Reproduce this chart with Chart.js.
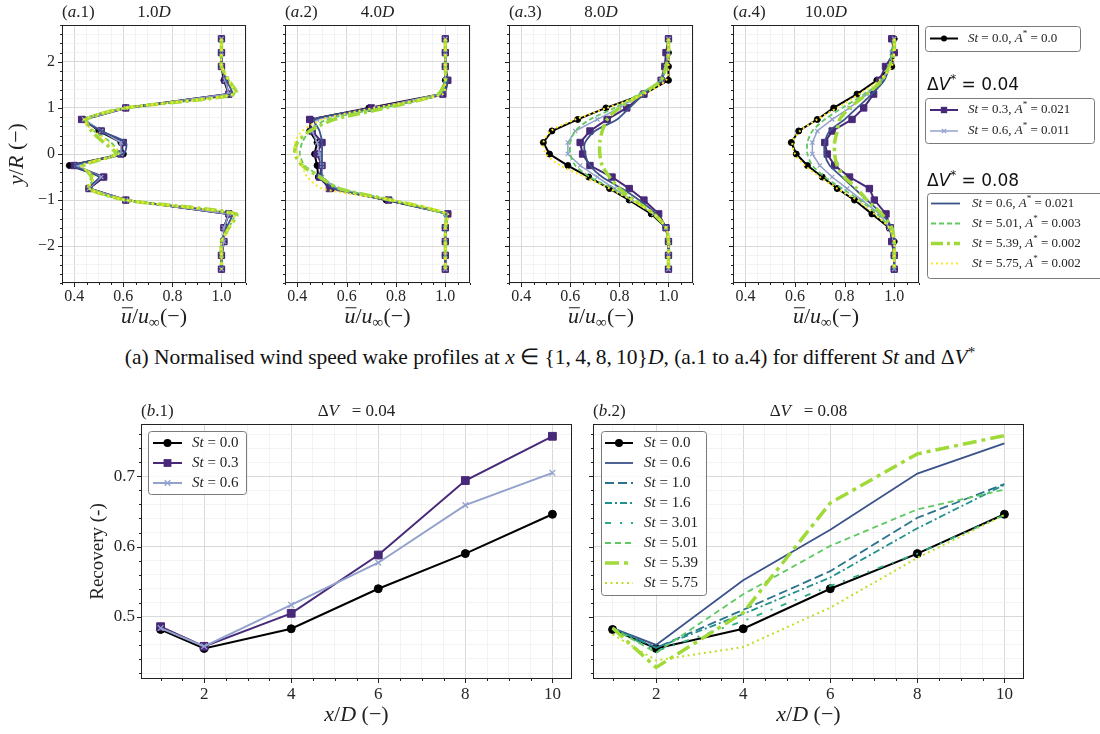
<!DOCTYPE html>
<html>
<head>
<meta charset="utf-8">
<script src="https://cdn.jsdelivr.net/npm/chart.js@4.4.1/dist/chart.umd.min.js"></script>
<style>
    html, body { margin: 0; padding: 0; background: #fff; }
    body { width: 1100px; height: 734px; position: relative; overflow: hidden; }
    canvas { position: absolute; }
    #caption {
        position: absolute; left: 0; top: 344px; width: 1100px; text-align: center;
        font: 21.5px 'Liberation Serif', serif; color: #111; white-space: nowrap;
    }
    #caption .up { position: relative; top: -0.45em; font-size: 0.7em; }
</style>
</head>
<body>
<div id="caption">(a) Normalised wind speed wake profiles at <i>x</i> ∈ {1,&thinsp;4,&thinsp;8,&thinsp;10}<i>D</i>, (a.1 to a.4) for different <i>St</i> and Δ<i>V</i><span class="up">*</span></div>
<script>
const SERIF = "'Liberation Serif', 'DejaVu Serif', serif";
const SANS = "'DejaVu Sans', sans-serif";

// --- wake profiles: sample heights y/R and u/u_inf per station (1, 4, 8, 10 D) ---
const yR = [2.5, 2.2, 1.9, 1.6, 1.3, 1.0, 0.75, 0.5, 0.25, 0, -0.25, -0.5, -0.75, -1.0, -1.3, -1.6, -1.9, -2.2, -2.5];
const stations = ['1.0', '4.0', '8.0', '10.0'];

const prof_st00 = [
    [1.0, 1.0, 1.0, 1.01, 1.03, 0.61, 0.44, 0.50, 0.59, 0.60, 0.38, 0.52, 0.46, 0.61, 1.03, 1.01, 1.01, 1.0, 1.0],
    [1.0, 1.0, 1.0, 1.0, 0.985, 0.69, 0.455, 0.45, 0.48, 0.47, 0.48, 0.485, 0.54, 0.76, 1.01, 1.0, 1.0, 1.0, 1.0],
    [1.0, 1.0, 1.0, 1.0, 0.90, 0.745, 0.63, 0.525, 0.49, 0.515, 0.59, 0.675, 0.76, 0.84, 0.93, 0.99, 1.0, 1.0, 1.0],
    [1.0, 1.0, 0.99, 0.93, 0.85, 0.756, 0.69, 0.615, 0.585, 0.605, 0.65, 0.71, 0.77, 0.84, 0.91, 0.98, 1.0, 1.0, 1.0]
];
const prof_st03 = [
    [1.0, 1.0, 1.0, 1.015, 1.03, 0.61, 0.43, 0.51, 0.60, 0.59, 0.40, 0.52, 0.46, 0.61, 1.03, 1.01, 1.01, 1.0, 1.0],
    [1.0, 1.0, 1.0, 1.01, 0.99, 0.70, 0.45, 0.46, 0.50, 0.48, 0.50, 0.49, 0.53, 0.77, 1.01, 1.0, 1.0, 1.0, 1.0],
    [1.0, 0.99, 0.985, 0.97, 0.90, 0.83, 0.75, 0.68, 0.64, 0.65, 0.68, 0.77, 0.84, 0.90, 0.96, 0.99, 1.0, 1.0, 1.0],
    [0.99, 1.0, 0.965, 0.94, 0.917, 0.877, 0.83, 0.75, 0.72, 0.73, 0.76, 0.82, 0.90, 0.92, 0.967, 0.984, 0.99, 1.0, 1.0]
];
const prof_st06a = [
    [1.0, 1.0, 1.0, 1.015, 1.03, 0.61, 0.44, 0.51, 0.59, 0.59, 0.41, 0.51, 0.46, 0.61, 1.03, 1.01, 1.01, 1.0, 1.0],
    [1.0, 1.0, 1.0, 1.0, 0.98, 0.72, 0.48, 0.46, 0.48, 0.49, 0.50, 0.50, 0.56, 0.78, 1.0, 1.0, 1.0, 1.0, 1.0],
    [1.0, 1.0, 0.99, 0.97, 0.89, 0.80, 0.71, 0.62, 0.59, 0.59, 0.64, 0.71, 0.78, 0.85, 0.94, 0.99, 1.0, 1.0, 1.0],
    [1.0, 0.99, 0.98, 0.95, 0.89, 0.82, 0.75, 0.69, 0.67, 0.67, 0.70, 0.75, 0.81, 0.87, 0.94, 0.98, 1.0, 1.0, 1.0]
];
const prof_st06b = [
    [1.0, 1.0, 1.0, 1.02, 1.04, 0.61, 0.44, 0.51, 0.61, 0.60, 0.40, 0.50, 0.46, 0.61, 1.04, 1.02, 1.0, 1.0, 1.0],
    [1.0, 1.0, 1.0, 1.01, 0.99, 0.72, 0.47, 0.49, 0.50, 0.50, 0.50, 0.50, 0.55, 0.76, 1.0, 1.0, 1.0, 1.0, 1.0],
    [1.0, 1.0, 0.99, 0.97, 0.90, 0.84, 0.79, 0.70, 0.66, 0.66, 0.68, 0.73, 0.81, 0.88, 0.95, 0.99, 1.0, 1.0, 1.0],
    [1.0, 0.99, 0.98, 0.96, 0.91, 0.85, 0.80, 0.74, 0.72, 0.72, 0.74, 0.79, 0.84, 0.89, 0.95, 0.99, 1.0, 1.0, 1.0]
];
const prof_st501 = [
    [1.0, 1.0, 1.0, 1.03, 1.05, 0.61, 0.44, 0.48, 0.55, 0.58, 0.43, 0.48, 0.46, 0.61, 1.05, 1.03, 1.0, 1.0, 1.0],
    [1.0, 1.0, 1.0, 1.0, 0.98, 0.74, 0.52, 0.45, 0.42, 0.41, 0.43, 0.50, 0.57, 0.78, 1.0, 1.0, 1.0, 1.0, 1.0],
    [1.0, 1.0, 0.99, 0.97, 0.88, 0.78, 0.68, 0.62, 0.60, 0.60, 0.62, 0.68, 0.77, 0.85, 0.94, 0.99, 1.0, 1.0, 1.0],
    [1.0, 0.99, 0.98, 0.95, 0.88, 0.79, 0.72, 0.67, 0.65, 0.65, 0.67, 0.72, 0.79, 0.86, 0.93, 0.98, 1.0, 1.0, 1.0]
];
const prof_st539 = [
    [1.0, 1.0, 1.0, 1.03, 1.06, 0.61, 0.45, 0.47, 0.52, 0.57, 0.44, 0.47, 0.46, 0.61, 1.06, 1.03, 1.0, 1.0, 1.0],
    [1.0, 1.0, 1.0, 1.0, 0.97, 0.76, 0.55, 0.45, 0.40, 0.39, 0.42, 0.49, 0.57, 0.78, 1.0, 1.0, 1.0, 1.0, 1.0],
    [1.0, 1.0, 0.99, 0.97, 0.89, 0.80, 0.75, 0.73, 0.72, 0.72, 0.73, 0.76, 0.80, 0.86, 0.94, 0.99, 1.0, 1.0, 1.0],
    [1.0, 1.0, 0.98, 0.95, 0.89, 0.82, 0.78, 0.77, 0.76, 0.76, 0.77, 0.80, 0.85, 0.89, 0.95, 0.99, 1.0, 1.0, 1.0]
];
const prof_st575 = [
    [1.0, 1.0, 1.0, 1.03, 1.05, 0.61, 0.44, 0.48, 0.54, 0.58, 0.43, 0.48, 0.46, 0.61, 1.05, 1.03, 1.0, 1.0, 1.0],
    [1.0, 1.0, 1.0, 1.0, 0.99, 0.71, 0.50, 0.42, 0.39, 0.40, 0.42, 0.44, 0.50, 0.78, 1.01, 1.0, 1.0, 1.0, 1.0],
    [1.0, 1.0, 1.0, 0.99, 0.90, 0.75, 0.62, 0.52, 0.49, 0.50, 0.56, 0.66, 0.76, 0.85, 0.94, 0.99, 1.0, 1.0, 1.0],
    [1.0, 1.0, 0.99, 0.94, 0.86, 0.77, 0.69, 0.62, 0.59, 0.60, 0.64, 0.70, 0.77, 0.85, 0.92, 0.98, 1.0, 1.0, 1.0]
];

// --- recovery vs downstream distance ---
const xD = [1, 2, 4, 6, 8, 10];
const rec1_st00 = [0.482, 0.455, 0.483, 0.540, 0.590, 0.646];
const rec1_st03 = [0.486, 0.458, 0.505, 0.588, 0.694, 0.757];
const rec1_st06 = [0.484, 0.458, 0.517, 0.577, 0.659, 0.705];
const rec2_st00 = [0.482, 0.455, 0.483, 0.540, 0.590, 0.646];
const rec2_st06 = [0.484, 0.460, 0.552, 0.624, 0.704, 0.747];
const rec2_st10 = [0.484, 0.456, 0.510, 0.565, 0.641, 0.689];
const rec2_st16 = [0.484, 0.456, 0.504, 0.556, 0.626, 0.688];
const rec2_st301 = [0.484, 0.451, 0.494, 0.544, 0.590, 0.645];
const rec2_st501 = [0.484, 0.449, 0.532, 0.601, 0.653, 0.681];
const rec2_st539 = [0.484, 0.428, 0.506, 0.662, 0.732, 0.758];
const rec2_st575 = [0.475, 0.438, 0.457, 0.513, 0.584, 0.645];

// --- ticks ---
const topXMajor = [0.4, 0.6, 0.8, 1.0];
const topYMajor = [-2, -1, 0, 1, 2];
const botXMajor = [2, 4, 6, 8, 10];
const botYMajor = [0.5, 0.6, 0.7];

// series styles
const profSeries = [
    { label: '$St$ = 0.0, $A$^* = 0.0', data: prof_st00, color: '#000000', width: 2, point: 'circle', r: 3 },
    { label: '$St$ = 0.3, $A$^* = 0.021', data: prof_st03, color: '#482878', width: 2, point: 'rect', r: 4.5 },
    { label: '$St$ = 0.6, $A$^* = 0.011', data: prof_st06a, color: '#93a2cc', width: 1.5, point: 'crossRot', r: 3 },
    { label: '$St$ = 0.6, $A$^* = 0.021', data: prof_st06b, color: '#3b528b', width: 1.8 },
    { label: '$St$ = 5.01, $A$^* = 0.003', data: prof_st501, color: '#5ec962', width: 1.8, dash: [5, 3] },
    { label: '$St$ = 5.39, $A$^* = 0.002', data: prof_st539, color: '#a0da39', width: 3.5, dash: [12, 4, 3, 4] },
    { label: '$St$ = 5.75, $A$^* = 0.002', data: prof_st575, color: '#fde725', width: 2, dash: [2, 3] }
];
const recSeries1 = [
    { label: '$St$ = 0.0', data: rec1_st00, color: '#000000', width: 2, point: 'circle', r: 4 },
    { label: '$St$ = 0.3', data: rec1_st03, color: '#482878', width: 2, point: 'rect', r: 5.5 },
    { label: '$St$ = 0.6', data: rec1_st06, color: '#93a2cc', width: 2, point: 'crossRot', r: 4 }
];
const recSeries2 = [
    { label: '$St$ = 0.0', data: rec2_st00, color: '#000000', width: 2, point: 'circle', r: 4 },
    { label: '$St$ = 0.6', data: rec2_st06, color: '#3b528b', width: 1.8 },
    { label: '$St$ = 1.0', data: rec2_st10, color: '#2c728e', width: 1.8, dash: [9, 4] },
    { label: '$St$ = 1.6', data: rec2_st16, color: '#21918c', width: 1.8, dash: [7, 3, 2, 3] },
    { label: '$St$ = 3.01', data: rec2_st301, color: '#28ae80', width: 1.8, dash: [6, 9, 2, 9] },
    { label: '$St$ = 5.01', data: rec2_st501, color: '#5ec962', width: 1.8, dash: [6, 4] },
    { label: '$St$ = 5.39', data: rec2_st539, color: '#a0da39', width: 3.5, dash: [14, 5, 4, 5] },
    { label: '$St$ = 5.75', data: rec2_st575, color: '#bddf26', width: 2, dash: [2, 3.5] }
];

function seq(a, b, step) {
    const out = [];
    const n = Math.round((b - a) / step);
    for (let i = 0; i <= n; i++) out.push(+(a + i * step).toFixed(4));
    return out;
}
const isIn = (arr, v) => arr.some(m => Math.abs(m - v) < 1e-6);

// small "$italic$ ^sup _sub ~overlined" text runs
function parseRuns(s) {
    const out = [];
    const re = /\$([^$]*)\$|\^(.)|_(.)|~(.)|([^$^_~]+)/g;
    let m;
    while ((m = re.exec(s))) {
        if (m[1] !== undefined) out.push({ t: m[1], it: true });
        else if (m[2] !== undefined) out.push({ t: m[2], sup: true });
        else if (m[3] !== undefined) out.push({ t: m[3], sub: true });
        else if (m[4] !== undefined) out.push({ t: m[4], it: true, over: true });
        else out.push({ t: m[5] });
    }
    return out;
}
function drawRuns(ctx, s, x, y, size, align, family) {
    const parts = parseRuns(s).map(p => {
        const fs = (p.sup || p.sub) ? size * 0.7 : size;
        const font = (p.it ? 'italic ' : '') + fs + 'px ' + family;
        ctx.font = font;
        return Object.assign(p, { font, w: ctx.measureText(p.t).width });
    });
    const total = parts.reduce((acc, p) => acc + p.w, 0);
    let cx = align === 'center' ? x - total / 2 : align === 'right' ? x - total : x;
    ctx.textAlign = 'left';
    ctx.textBaseline = 'middle';
    for (const p of parts) {
        ctx.font = p.font;
        const dy = p.sup ? -size * 0.38 : p.sub ? size * 0.28 : 0;
        ctx.fillText(p.t, cx, y + dy);
        if (p.over) {
            ctx.save();
            ctx.lineWidth = 1;
            ctx.strokeStyle = ctx.fillStyle;
            ctx.beginPath();
            ctx.moveTo(cx + 1, y - size * 0.42);
            ctx.lineTo(cx + p.w + 1, y - size * 0.42);
            ctx.stroke();
            ctx.restore();
        }
        cx += p.w;
    }
}

function line(ctx, x0, y0, x1, y1) {
    ctx.beginPath(); ctx.moveTo(x0, y0); ctx.lineTo(x1, y1); ctx.stroke();
}

function marker(ctx, s, x, y) {
    ctx.save();
    ctx.setLineDash([]);
    ctx.fillStyle = s.color; ctx.strokeStyle = s.color;
    ctx.beginPath();
    if (s.point === 'circle') {
        ctx.arc(x, y, s.r, 0, Math.PI * 2); ctx.fill();
    } else if (s.point === 'rect') {
        const h = s.r * Math.SQRT1_2;
        ctx.fillRect(x - h, y - h, 2 * h, 2 * h);
    } else if (s.point === 'crossRot') {
        const h = s.r * Math.SQRT1_2;
        ctx.lineWidth = 1.3;
        ctx.moveTo(x - h, y - h); ctx.lineTo(x + h, y + h);
        ctx.moveTo(x - h, y + h); ctx.lineTo(x + h, y - h);
        ctx.stroke();
    }
    ctx.restore();
}

function drawLegend(ctx, L) {
    ctx.save();
    ctx.beginPath();
    ctx.roundRect(L.x + 0.5, L.y + 0.5, L.w, L.h, 3);
    ctx.fillStyle = 'rgba(255,255,255,0.85)';
    ctx.fill();
    ctx.strokeStyle = '#7a7a7a';
    ctx.lineWidth = 1;
    ctx.stroke();
    L.rows.forEach((s, i) => {
        const y = L.y0 + i * L.dy;
        ctx.strokeStyle = s.color;
        ctx.lineWidth = s.width;
        ctx.setLineDash(s.dash || []);
        line(ctx, L.x0, y, L.x1, y);
        ctx.setLineDash([]);
        if (s.point) marker(ctx, s, (L.x0 + L.x1) / 2, y);
        ctx.fillStyle = '#222';
        drawRuns(ctx, s.label, L.tx, y, L.size, 'left', SERIF);
    });
    ctx.restore();
}

const decorCfg = new Map();
const decor = {
    id: 'decor',
    afterDraw(chart) {
        const cfg = decorCfg.get(chart.canvas.id);
        if (!cfg) return;
        const { ctx, chartArea: a, scales } = chart;
        ctx.save();
        ctx.strokeStyle = '#222';
        ctx.lineWidth = 1;
        // outward tick marks, long for major and short for minor
        for (const t of scales.x.ticks) {
            const px = Math.round(scales.x.getPixelForValue(t.value)) + 0.5;
            line(ctx, px, a.bottom, px, a.bottom + (isIn(cfg.xMajor, t.value) ? 4 : 2));
        }
        for (const t of scales.y.ticks) {
            const py = Math.round(scales.y.getPixelForValue(t.value)) + 0.5;
            line(ctx, a.left - (isIn(cfg.yMajor, t.value) ? 4 : 2), py, a.left, py);
        }
        ctx.strokeRect(Math.round(a.left) + 0.5, Math.round(a.top) + 0.5, Math.round(a.width) - 1, Math.round(a.height) - 1);

        const cx = (a.left + a.right) / 2;
        ctx.fillStyle = '#222';
        drawRuns(ctx, cfg.tag, a.left, cfg.titleY, 17, 'left', SERIF);
        drawRuns(ctx, cfg.title, cx, cfg.titleY, 17, 'center', SERIF);
        drawRuns(ctx, cfg.xTitle, cx, cfg.xTitleY, 22, 'center', SERIF);
        if (cfg.yTitle) {
            ctx.save();
            ctx.translate(cfg.yTitleX, (a.top + a.bottom) / 2);
            ctx.rotate(-Math.PI / 2);
            drawRuns(ctx, cfg.yTitle, 0, 0, cfg.yTitleSize, 'center', SERIF);
            ctx.restore();
        }
        (cfg.headings || []).forEach(h => {
            ctx.fillStyle = '#111';
            drawRuns(ctx, h.s, h.x, h.y, 17, 'left', SANS);
        });
        (cfg.legends || []).forEach(L => drawLegend(ctx, L));
        ctx.restore();
    }
};

function axis(o) {
    return {
        type: 'linear',
        position: o.isX ? 'bottom' : 'left',
        min: o.min, max: o.max,
        afterBuildTicks: s => { s.ticks = seq(o.first, o.last, o.step).map(v => ({ value: v })); },
        afterFit: s => { if (o.isX) s.height = o.fit; else s.width = o.fit; },
        grid: {
            color: c => (c.tick && isIn(o.major, c.tick.value)) ? '#d9d9d9' : '#f0f0f0',
            lineWidth: c => (c.tick && isIn(o.major, c.tick.value)) ? 1 : 0.8,
            drawTicks: false
        },
        border: { display: false },
        ticks: {
            autoSkip: false, maxRotation: 0, minRotation: 0, padding: o.pad,
            color: '#262626', font: { family: SERIF, size: o.size },
            callback: v => (o.labels && isIn(o.major, v)) ? o.fmt(v) : ''
        }
    };
}

function makeCanvas(id, left, top, w, h) {
    const c = document.createElement('canvas');
    c.id = id; c.width = w; c.height = h;
    c.style.left = left + 'px'; c.style.top = top + 'px';
    c.style.width = w + 'px'; c.style.height = h + 'px';
    document.body.appendChild(c);
    return c;
}

function toDatasets(series, pointsOf, smooth) {
    const n = series.length;
    return series.map((s, i) => ({
        label: s.label,
        data: pointsOf(s),
        borderColor: s.color,
        backgroundColor: s.color,
        borderWidth: s.width,
        borderDash: s.dash || [],
        pointStyle: s.point || 'circle',
        pointRadius: s.point ? s.r : 0,
        pointBorderWidth: s.point === 'crossRot' ? 1.3 : 1,
        pointHoverRadius: 0,
        showLine: true,
        tension: (smooth && !s.point) ? 0.25 : 0,
        order: n - i
    }));
}

function buildChart(id, box, datasets, scales, cfg) {
    const canvas = makeCanvas(id, box.left, box.top, box.width, box.height);
    decorCfg.set(id, cfg);
    return new Chart(canvas, {
        type: 'scatter',
        data: { datasets },
        options: {
            responsive: false, animation: false, events: [],
            layout: { padding: { left: 0, top: box.padT, right: box.padR, bottom: 0 } },
            plugins: { legend: { display: false }, tooltip: { enabled: false } },
            scales
        },
        plugins: [decor]
    });
}

// --- top row: wake profiles ---
const topBoxes = [
    { left: 0, width: 252, yw: 62, padR: 6 },
    { left: 250, width: 226, yw: 35, padR: 6 },
    { left: 474, width: 225, yw: 35, padR: 6 },
    { left: 698, width: 402, yw: 35, padR: 181 }
];

stations.forEach((st, k) => {
    const b = topBoxes[k];
    const box = { left: b.left, top: 0, width: b.width, height: 330, padT: 25, padR: b.padR };
    const ds = toDatasets(profSeries, s => yR.map((y, i) => ({ x: s.data[k][i], y })), true);
    const scales = {
        x: axis({ isX: true, min: 0.35, max: 1.1, first: 0.35, last: 1.1, step: 0.05, major: topXMajor,
                  labels: true, fmt: v => v.toFixed(1), size: 16, pad: 4, fit: 47 }),
        y: axis({ isX: false, min: -2.8, max: 2.8, first: -2.8, last: 2.8, step: 0.2, major: topYMajor,
                  labels: k === 0, fmt: v => String(Math.round(v)).replace('-', '\u2212'), size: 16, pad: 7, fit: b.yw })
    };
    const cfg = {
        xMajor: topXMajor, yMajor: topYMajor,
        tag: '($a$.' + (k + 1) + ')', title: st + '$D$', titleY: 13,
        xTitle: '~u/$u$_\u221e(\u2212)', xTitleY: 317,
        yTitle: k === 0 ? '$y$/$R$ (\u2212)' : null, yTitleX: 17, yTitleSize: 22
    };
    if (k === 3) {
        cfg.headings = [
            { s: '\u0394$V$^* = 0.04', x: 229, y: 86 },
            { s: '\u0394$V$^* = 0.08', x: 229, y: 182 }
        ];
        cfg.legends = [
            { x: 227, y: 26, w: 155, h: 25, rows: [profSeries[0]], y0: 38.5, dy: 20, x0: 232, x1: 260, tx: 270, size: 13 },
            { x: 227, y: 98, w: 169, h: 45, rows: [profSeries[1], profSeries[2]], y0: 110, dy: 21, x0: 232, x1: 260, tx: 270, size: 13 },
            { x: 229, y: 193, w: 180, h: 85, rows: profSeries.slice(3), y0: 203.5, dy: 20, x0: 233, x1: 262, tx: 274, size: 13 }
        ];
    }
    buildChart('a' + (k + 1), box, ds, scales, cfg);
});

// --- bottom row: recovery ---
function recScales(showY, yw) {
    return {
        x: axis({ isX: true, min: 0.55, max: 10.45, first: 1, last: 10, step: 0.5, major: botXMajor,
                  labels: true, fmt: v => String(Math.round(v)), size: 17, pad: 5, fit: 51 }),
        y: axis({ isX: false, min: 0.4115, max: 0.7745, first: 0.42, last: 0.76, step: 0.02, major: botYMajor,
                  labels: showY, fmt: v => v.toFixed(1), size: 17, pad: 6, fit: yw })
    };
}
const recPoints = s => xD.map((x, i) => ({ x, y: s.data[i] }));

buildChart('b1', { left: 60, top: 395, width: 520, height: 335, padT: 29, padR: 8 },
    toDatasets(recSeries1, recPoints, false), recScales(true, 81), {
        xMajor: botXMajor, yMajor: botYMajor,
        tag: '($b$.1)', title: '\u0394$V$   = 0.04', titleY: 17,
        xTitle: '$x$/$D$ (\u2212)', xTitleY: 320,
        yTitle: 'Recovery (-)', yTitleX: 38, yTitleSize: 19,
        legends: [{ x: 88, y: 36, w: 98, h: 63, rows: recSeries1, y0: 48, dy: 20, x0: 93, x1: 122, tx: 132, size: 15 }]
    });

buildChart('b2', { left: 578, top: 395, width: 455, height: 335, padT: 29, padR: 9 },
    toDatasets(recSeries2, recPoints, false), recScales(false, 15), {
        xMajor: botXMajor, yMajor: botYMajor,
        tag: '($b$.2)', title: '\u0394$V$   = 0.08', titleY: 17,
        xTitle: '$x$/$D$ (\u2212)', xTitleY: 320,
        legends: [{ x: 23, y: 36, w: 105, h: 164, rows: recSeries2, y0: 48, dy: 20, x0: 27, x1: 55, tx: 66, size: 15 }]
    });
</script>
</body>
</html>
